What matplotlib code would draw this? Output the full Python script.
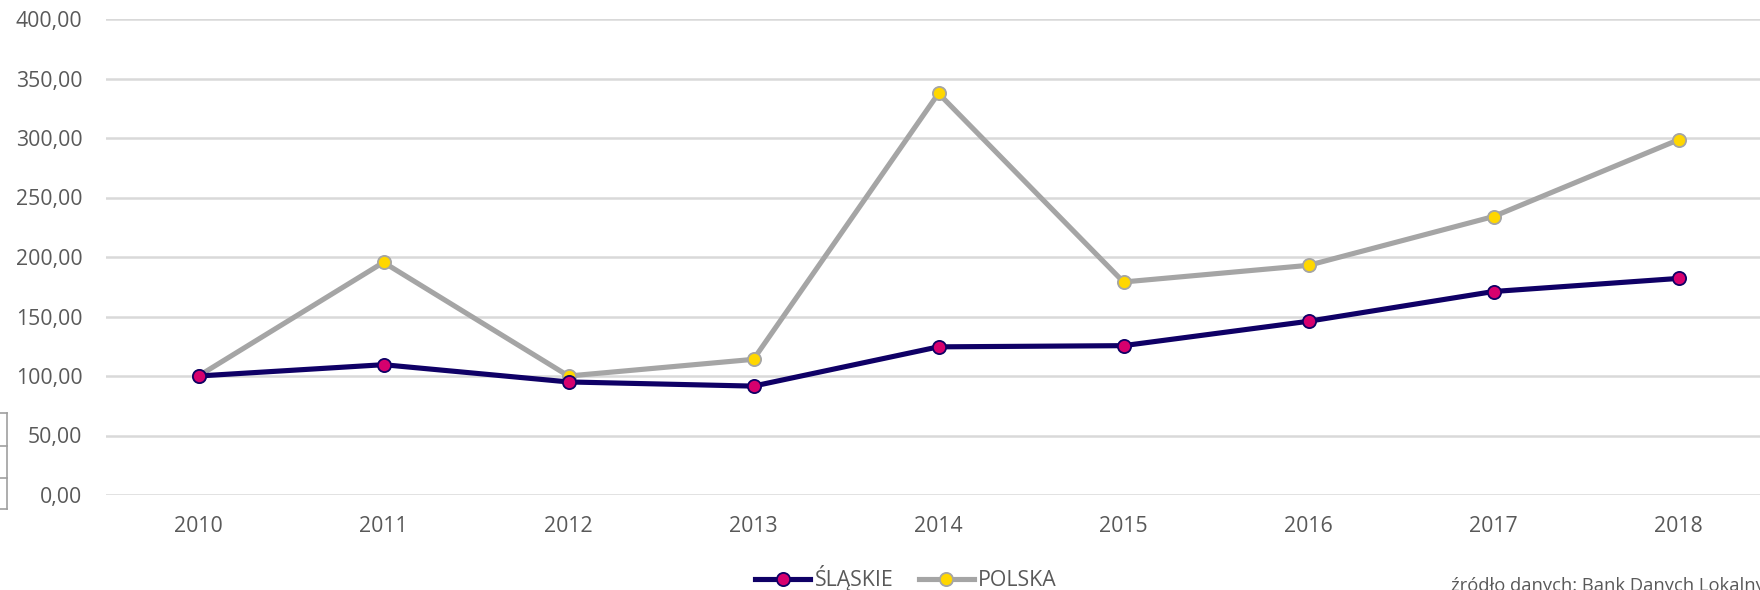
import matplotlib
matplotlib.use('Agg')
import matplotlib.pyplot as plt
from matplotlib.lines import Line2D

years = ['2010', '2011', '2012', '2013', '2014', '2015', '2016', '2017', '2018']
slaskie = [100.0, 109.5, 95.0, 91.5, 124.5, 125.5, 146.0, 171.0, 182.0]
polska = [100.0, 195.5, 100.0, 114.0, 337.5, 179.0, 193.0, 234.0, 298.5]
yticks = [0, 50, 100, 150, 200, 250, 300, 350, 400]

NAVY = '#0F0066'
MAGENTA = '#D6006E'
GREY = '#A5A5A5'
GOLD = '#FFD700'
TEXT = '#595959'

plt.rcParams['font.family'] = ['Open Sans', 'DejaVu Sans']

W, H = 1760, 590
fig = plt.figure(figsize=(W / 100, H / 100), dpi=100)
ax = fig.add_axes([106 / W, 1 - 495 / H, (1771 - 106) / W, (495 - 19) / H])

x = list(range(len(years)))
ax.plot(x, polska, color=GREY, lw=3.7, marker='o', ms=9.5,
        mfc=GOLD, mec=GREY, mew=1.3, solid_capstyle='round', zorder=3)
ax.plot(x, slaskie, color=NAVY, lw=3.7, marker='o', ms=9.5,
        mfc=MAGENTA, mec=NAVY, mew=1.3, solid_capstyle='round', zorder=4)

ax.set_xlim(-0.5, len(years) - 0.5)
ax.set_ylim(0, 400)
ax.set_xticks(x)
ax.set_xticklabels(years)
ax.set_yticks(yticks)
ax.set_yticklabels([f'{v:.2f}'.replace('.', ',') for v in yticks])
ax.tick_params(axis='both', length=0, labelsize=15.3, labelcolor=TEXT)
ax.tick_params(axis='y', pad=17)
ax.tick_params(axis='x', pad=15)
ax.grid(axis='y', color='#D9D9D9', lw=1.8)
ax.set_axisbelow(True)
for s in ax.spines.values():
    s.set_visible(False)

handles = [
    Line2D([], [], color=NAVY, lw=3.7, marker='o', ms=9.5, mfc=MAGENTA, mec=NAVY, mew=1.3),
    Line2D([], [], color=GREY, lw=3.7, marker='o', ms=9.5, mfc=GOLD, mec=GREY, mew=1.3),
]
fig.legend(handles, ['ŚLĄSKIE', 'POLSKA'], loc='center', bbox_to_anchor=(906 / W, 1 - 578 / H),
           ncol=2, frameon=False, fontsize=15.3, labelcolor=TEXT, handlelength=2.6,
           handletextpad=0.2, columnspacing=1.2)

fig.text(1451 / W, -0.008, 'źródło danych: Bank Danych Lokalnych', fontsize=13.2,
         color=TEXT, ha='left', va='bottom')

# fragment of a neighbouring table at the left edge
for yy in [413, 446, 478, 509]:
    fig.add_artist(Line2D([0, 7 / W], [1 - yy / H] * 2, color='#A0A0A0', lw=1.2))
fig.add_artist(Line2D([7 / W] * 2, [1 - 413 / H, 1 - 509 / H], color='#A0A0A0', lw=1.2))

fig.savefig('out.png', dpi=100)
